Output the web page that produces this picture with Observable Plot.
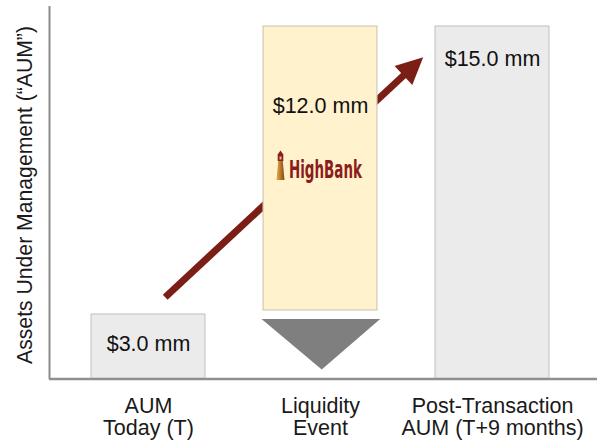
<!DOCTYPE html>
<html><head><meta charset="utf-8">
<script src="https://cdn.jsdelivr.net/npm/d3@7"></script>
<script src="https://cdn.jsdelivr.net/npm/@observablehq/plot@0.6"></script>
<style>body{margin:0;background:#fff}</style>
</head><body><div id="chart"></div>
<script>
// ---- data ----
const categories = ["AUM\nToday (T)", "Liquidity\nEvent", "Post-Transaction\nAUM (T+9 months)"];
const barStart = [0, 3, 0];
const barEnd = [3, 15, 15];
const barLabels = ["$3.0 mm", "$12.0 mm", "$15.0 mm"];
const barKinds = ["total", "event", "total"];
const yTitle = "Assets Under Management (\u201CAUM\u201D)";
const brand = "HighBank";
// growth arrow path (category index, AUM $mm)
const arrowX = [0.1, 1.6];
const arrowY = [3.7, 13.7];
// outflow wedge under the liquidity event
const wedgeX = [0.66, 1.01, 1.35];
const wedgeLow = [2.77, 0.42, 2.77];
const wedgeTop = 2.77;

const bars = categories.map((c, i) => ({i, c, y1: barStart[i], y2: barEnd[i], label: barLabels[i], kind: barKinds[i]}));
const totals = bars.filter(d => d.kind === "total");
const events = bars.filter(d => d.kind === "event");
const wedge = wedgeX.map((x, i) => ({x, y1: wedgeLow[i], y2: wedgeTop}));
const xDomain = [-0.5756, 2.6105];
const half = 0.331;

const arrowMark = (index, scales) => {
  const x = scales.x, y = scales.y;
  const x0 = x(arrowX[0]), y0 = y(arrowY[0]), x1 = x(arrowX[1]), y1 = y(arrowY[1]);
  const dx = x1 - x0, dy = y1 - y0, L = Math.hypot(dx, dy);
  const ux = dx / L, uy = dy / L, px = -uy, py = ux;
  const hl = 27, hw = 13;
  const bx = x1 - ux * hl, by = y1 - uy * hl;
  const g = d3.create("svg:g");
  g.append("line").attr("x1", x0).attr("y1", y0).attr("x2", bx + ux * 2).attr("y2", by + uy * 2)
    .attr("stroke", "#7b1e16").attr("stroke-width", 7);
  g.append("path").attr("d", `M${x1},${y1}L${bx + px * hw},${by + py * hw}L${bx - px * hw},${by - py * hw}Z`)
    .attr("fill", "#7b1e16");
  return g.node();
};

const logoMark = (index, scales) => {
  const cx = scales.x(1);
  const g = d3.create("svg:g");
  const defs = g.append("defs");
  const lg = defs.append("linearGradient").attr("id", "lhgrad").attr("x1", 0).attr("x2", 1);
  lg.append("stop").attr("offset", "0%").attr("stop-color", "#e0b04a");
  lg.append("stop").attr("offset", "100%").attr("stop-color", "#8a4510");
  const bx = cx - 39.5;
  g.append("path").attr("d", `M${bx - 4},180L${bx + 4},180L${bx + 2.3},161L${bx - 2.3},161Z`).attr("fill", "url(#lhgrad)");
  g.append("rect").attr("x", bx - 2.8).attr("y", 155).attr("width", 5.6).attr("height", 6).attr("fill", "#8b2020");
  g.append("rect").attr("x", bx - 1).attr("y", 156.5).attr("width", 2).attr("height", 3).attr("fill", "#f0c070");
  g.append("path").attr("d", `M${bx - 3.2},155L${bx + 3.2},155L${bx},150.5Z`).attr("fill", "#8b2020");
  g.append("text").attr("x", cx - 31).attr("y", 178)
    .attr("text-anchor", "start")
    .attr("font-family", "'Liberation Sans Narrow','DejaVu Sans Condensed',sans-serif")
    .attr("font-size", 24).attr("font-weight", "bold").attr("fill", "#8b1c1c")
    .attr("textLength", 73).attr("lengthAdjust", "spacingAndGlyphs").text(brand);
  return g.node();
};

const chart = Plot.plot({
  width: 603, height: 441,
  marginLeft: 49, marginRight: 6, marginTop: 6, marginBottom: 62,
  style: {fontFamily: "'Liberation Sans', Arial, sans-serif", background: "#fff", color: "#1a1a1a", overflow: "visible"},
  x: {type: "linear", domain: xDomain, axis: null},
  y: {type: "linear", domain: [0, 3, 15], range: [378.5, 314, 26], axis: null},
  marks: [
    arrowMark,
    Plot.rect(totals, {
      x1: d => d.i - half, x2: d => d.i + half, y1: "y1", y2: "y2",
      fill: "#ebebeb", stroke: "#c8c8c8", strokeWidth: 1.2
    }),
    Plot.rect(events, {
      x1: d => d.i - half, x2: d => d.i + half, y1: "y1", y2: "y2",
      fill: "#fff2cc", stroke: "#d3cab0", strokeWidth: 1.2, insetBottom: 4
    }),
    Plot.areaY(wedge, {x: "x", y1: "y1", y2: "y2", fill: "#7f7f7f", curve: "linear"}),
    Plot.ruleY([0], {stroke: "#8f8f8f", strokeWidth: 2.5}),
    Plot.ruleX([xDomain[0]], {stroke: "#8c8c8c", strokeWidth: 2}),
    Plot.text([bars[0]], {x: "i", y: d => d.y1 + (d.y2 - d.y1) / 2, text: "label", fontSize: 21.5, dy: -3, fill: "#111"}),
    Plot.text([bars[1]], {x: "i", y: "y2", text: "label", fontSize: 21.5, dy: 80, fill: "#111"}),
    Plot.text([bars[2]], {x: "i", y: "y2", text: "label", fontSize: 21.5, dy: 33, fill: "#111"}),
    logoMark,
    Plot.axisX({ticks: [0, 1, 2], tickFormat: i => categories[i], tickSize: 0, tickPadding: 18, fontSize: 21.5, lineHeight: 1.02, label: null, fill: "#1a1a1a"}),
    Plot.text([yTitle], {frameAnchor: "left", textAnchor: "middle", rotate: -90, dx: -24, dy: 2, fontSize: 21.2, fill: "#1a1a1a"})
  ]
});
document.getElementById("chart").appendChild(chart);
</script></body></html>
